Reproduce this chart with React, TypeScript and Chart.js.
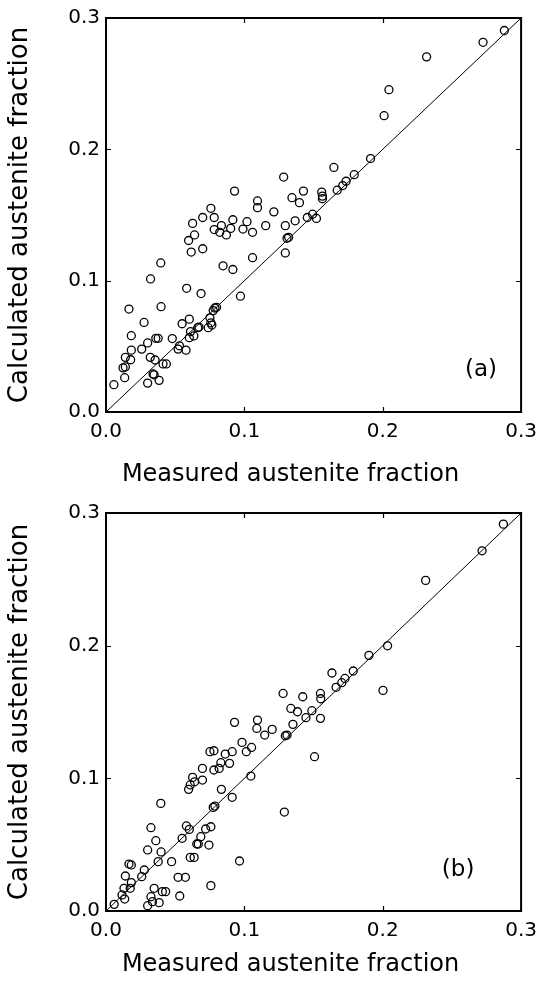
import React, { useEffect, useRef } from "react";
import { Chart, registerables } from "chart.js";

Chart.register(...registerables);

// ---------- data ----------
const TICK_VALUES = [0, 0.1, 0.2, 0.3];
const TICK_LABELS = ["0.0", "0.1", "0.2", "0.3"];
const X_TITLE = "Measured austenite fraction";
const Y_TITLE = "Calculated austenite fraction";
const PANEL_LABELS = ["(a)", "(b)"];
const PARITY_LINE = [0, 0.3];

const measuredA = [
  0.0699, 0.0758, 0.0782, 0.0917, 0.0929, 0.1019, 0.1095, 0.1095, 0.1213, 0.1284,
  0.1344, 0.1367, 0.1398, 0.1427, 0.1455, 0.1493, 0.1521, 0.1559, 0.1564, 0.1564,
  0.1647, 0.1671, 0.1711, 0.1735, 0.1794, 0.1912, 0.2010, 0.2045, 0.2317, 0.2725,
  0.2879, 0.0626, 0.0782, 0.0834, 0.0901, 0.0990, 0.1059, 0.1154, 0.1296, 0.0057,
  0.0135, 0.0123, 0.0140, 0.0140, 0.0178, 0.0183, 0.0183, 0.0166, 0.0258, 0.0275,
  0.0301, 0.0322, 0.0320, 0.0301, 0.0348, 0.0355, 0.0340, 0.0384, 0.0360, 0.0377,
  0.0396, 0.0398, 0.0412, 0.0436, 0.0479, 0.0521, 0.0531, 0.0578, 0.0550, 0.0602,
  0.0583, 0.0602, 0.0611, 0.0635, 0.0663, 0.0672, 0.0687, 0.0699, 0.0616, 0.0597,
  0.0640, 0.0739, 0.0758, 0.0751, 0.0765, 0.0775, 0.0787, 0.0799, 0.0822, 0.0870,
  0.0846, 0.0917, 0.0972, 0.1059, 0.1296, 0.1308, 0.1320,
];
const calculatedA = [
  0.1481, 0.1551, 0.1481, 0.1464, 0.1682, 0.1449, 0.1607, 0.1556, 0.1524, 0.1789,
  0.1632, 0.1456, 0.1594, 0.1682, 0.1481, 0.1506, 0.1474, 0.1674, 0.1644, 0.1624,
  0.1862, 0.1689, 0.1724, 0.1757, 0.1807, 0.1930, 0.2256, 0.2454, 0.2704, 0.2815,
  0.2905, 0.1436, 0.1389, 0.1419, 0.1398, 0.1393, 0.1368, 0.1419, 0.1419, 0.0208,
  0.0261, 0.0336, 0.0343, 0.0416, 0.0398, 0.0471, 0.0581, 0.0784, 0.0479, 0.0682,
  0.0526, 0.1013, 0.0416, 0.0220, 0.0283, 0.0396, 0.0290, 0.0241, 0.0561, 0.0561,
  0.1135, 0.0802, 0.0366, 0.0366, 0.0559, 0.0479, 0.0504, 0.0471, 0.0672, 0.0707,
  0.0942, 0.0566, 0.0612, 0.0579, 0.0642, 0.0647, 0.0902, 0.1243, 0.1218, 0.1306,
  0.1348, 0.0642, 0.0679, 0.0717, 0.0662, 0.0772, 0.0792, 0.0797, 0.1368, 0.1348,
  0.1113, 0.1085, 0.0882, 0.1175, 0.1211, 0.1323, 0.1330,
];

const measuredB = [
  0.0929, 0.1095, 0.1090, 0.1201, 0.1280, 0.1336, 0.1384, 0.1422, 0.1351, 0.1445,
  0.1488, 0.1550, 0.1552, 0.1550, 0.1633, 0.1663, 0.1704, 0.1727, 0.1787, 0.1900,
  0.2035, 0.2002, 0.2310, 0.2718, 0.2872, 0.0059, 0.0116, 0.0135, 0.0130, 0.0140,
  0.0175, 0.0183, 0.0166, 0.0183, 0.0258, 0.0277, 0.0301, 0.0325, 0.0360, 0.0398,
  0.0396, 0.0377, 0.0301, 0.0325, 0.0348, 0.0336, 0.0384, 0.0407, 0.0431, 0.0474,
  0.0521, 0.0574, 0.0533, 0.0550, 0.0581, 0.0602, 0.0609, 0.0637, 0.0656, 0.0667,
  0.0685, 0.0720, 0.0758, 0.0744, 0.0758, 0.0775, 0.0787, 0.0834, 0.0912, 0.0965,
  0.1047, 0.1289, 0.1296, 0.1308, 0.1507, 0.0597, 0.0609, 0.0626, 0.0640, 0.0697,
  0.0697, 0.0751, 0.0780, 0.0780, 0.0818, 0.0830, 0.0862, 0.0893, 0.0912, 0.0983,
  0.1014, 0.1052, 0.1147,
];
const calculatedB = [
  0.1422, 0.1439, 0.1376, 0.1369, 0.1640, 0.1527, 0.1502, 0.1615, 0.1407, 0.1457,
  0.1510, 0.1640, 0.1600, 0.1452, 0.1794, 0.1686, 0.1721, 0.1753, 0.1809, 0.1927,
  0.1999, 0.1663, 0.2492, 0.2715, 0.2916, 0.0050, 0.0121, 0.0090, 0.0171, 0.0264,
  0.0171, 0.0214, 0.0354, 0.0347, 0.0259, 0.0309, 0.0460, 0.0628, 0.0530, 0.0445,
  0.0811, 0.0372, 0.0040, 0.0108, 0.0171, 0.0070, 0.0063, 0.0146, 0.0146, 0.0372,
  0.0254, 0.0254, 0.0113, 0.0548, 0.0641, 0.0615, 0.0404, 0.0404, 0.0505, 0.0505,
  0.0560, 0.0618, 0.0635, 0.0497, 0.0191, 0.0781, 0.0791, 0.0917, 0.0857, 0.0377,
  0.1017, 0.0746, 0.1321, 0.1326, 0.1163, 0.0917, 0.0950, 0.1007, 0.0974, 0.0987,
  0.1075, 0.1201, 0.1208, 0.1063, 0.1075, 0.1118, 0.1183, 0.1113, 0.1201, 0.1271,
  0.1201, 0.1233, 0.1326,
];

// ---------- drawing ----------
const FONT = "'DejaVu Sans', Verdana, sans-serif";

const framePlugin = {
  id: "frame",
  afterDraw(chart: any, _args: any, opts: any) {
    const { ctx, chartArea: a, scales } = chart;
    const xs = scales.x;
    const ys = scales.y;
    ctx.save();
    ctx.strokeStyle = "#000";
    ctx.lineWidth = 2;
    ctx.strokeRect(a.left, a.top, a.right - a.left, a.bottom - a.top);
    ctx.lineWidth = 1.2;
    const len = 5;
    ctx.beginPath();
    for (const v of TICK_VALUES.slice(1, -1)) {
      const px = Math.round(xs.getPixelForValue(v)) + 0.5;
      ctx.moveTo(px, a.bottom);
      ctx.lineTo(px, a.bottom - len);
      ctx.moveTo(px, a.top);
      ctx.lineTo(px, a.top + len);
      const py = Math.round(ys.getPixelForValue(v)) + 0.5;
      ctx.moveTo(a.left, py);
      ctx.lineTo(a.left + len, py);
      ctx.moveTo(a.right, py);
      ctx.lineTo(a.right - len, py);
    }
    ctx.stroke();

    ctx.fillStyle = "#000";
    ctx.textAlign = "center";
    ctx.textBaseline = "middle";
    ctx.font = `23px ${FONT}`;
    ctx.fillText(opts.label, xs.getPixelForValue(opts.labelX), ys.getPixelForValue(opts.labelY));

    ctx.font = `24px ${FONT}`;
    ctx.fillText(X_TITLE, (a.left + a.right) / 2 - 23, a.bottom + opts.titleGap);
    ctx.restore();
  },
};

type PanelProps = {
  measured: number[];
  calculated: number[];
  label: string;
  labelX: number;
  labelY: number;
  height: number;
  areaTop: number;
  areaBottom: number;
  titleGap: number;
};

function Panel(p: PanelProps) {
  const ref = useRef<HTMLCanvasElement>(null);
  useEffect(() => {
    if (!ref.current) return;
    const chart = new Chart(ref.current, {
      type: "scatter",
      data: {
        datasets: [
          {
            type: "line",
            data: PARITY_LINE.map((v) => ({ x: v, y: v })),
            borderColor: "#000",
            borderWidth: 1,
            pointRadius: 0,
            fill: false,
            tension: 0,
          } as any,
          {
            type: "scatter",
            data: p.measured.map((m, i) => ({ x: m, y: p.calculated[i] })),
            pointStyle: "circle",
            pointRadius: 4,
            pointBorderWidth: 1.3,
            pointBorderColor: "#000",
            pointBackgroundColor: "rgba(0,0,0,0)",
            borderColor: "#000",
            backgroundColor: "rgba(0,0,0,0)",
          } as any,
        ],
      },
      options: {
        animation: false,
        responsive: false,
        devicePixelRatio: 1,
        layout: { padding: { left: 0, right: 17, top: p.areaTop, bottom: 0 } },
        plugins: {
          legend: { display: false },
          tooltip: { enabled: false },
          frame: { label: p.label, labelX: p.labelX, labelY: p.labelY, titleGap: p.titleGap },
        } as any,
        scales: {
          x: {
            type: "linear",
            min: 0,
            max: 0.3,
            afterBuildTicks: (s: any) => {
              s.ticks = TICK_VALUES.map((v) => ({ value: v }));
            },
            afterFit: (s: any) => {
              s.height = p.height - p.areaBottom;
            },
            grid: { display: false, drawTicks: false },
            border: { display: false },
            ticks: {
              callback: (_v: any, i: number) => TICK_LABELS[i],
              font: { family: FONT, size: 20 },
              color: "#000",
              padding: 8,
              maxRotation: 0,
              autoSkip: false,
            },
          },
          y: {
            type: "linear",
            min: 0,
            max: 0.3,
            afterBuildTicks: (s: any) => {
              s.ticks = TICK_VALUES.map((v) => ({ value: v }));
            },
            afterFit: (s: any) => {
              s.width = 106;
            },
            grid: { display: false, drawTicks: false },
            border: { display: false },
            ticks: {
              callback: (_v: any, i: number) => TICK_LABELS[i],
              font: { family: FONT, size: 20 },
              color: "#000",
              padding: 6,
              autoSkip: false,
            },
            title: {
              display: true,
              text: Y_TITLE,
              font: { family: FONT, size: 26 },
              color: "#000",
              padding: { top: 5, bottom: 0 },
            },
          },
        },
      },
      plugins: [framePlugin as any],
    } as any);
    return () => chart.destroy();
  }, []);
  return (
    <canvas
      ref={ref}
      width={545}
      height={p.height}
      style={{ display: "block", width: 545, height: p.height }}
    />
  );
}

export default function App() {
  return (
    <div
      style={{
        position: "absolute",
        left: 0,
        top: 0,
        width: 545,
        height: 991,
        background: "#fff",
      }}
    >
      <Panel
        measured={measuredA}
        calculated={calculatedA}
        label={PANEL_LABELS[0]}
        labelX={0.271}
        labelY={0.032}
        height={495}
        areaTop={13}
        areaBottom={412}
        titleGap={63}
      />
      <Panel
        measured={measuredB}
        calculated={calculatedB}
        label={PANEL_LABELS[1]}
        labelX={0.2545}
        labelY={0.031}
        height={496}
        areaTop={18}
        areaBottom={416}
        titleGap={54}
      />
    </div>
  );
}
